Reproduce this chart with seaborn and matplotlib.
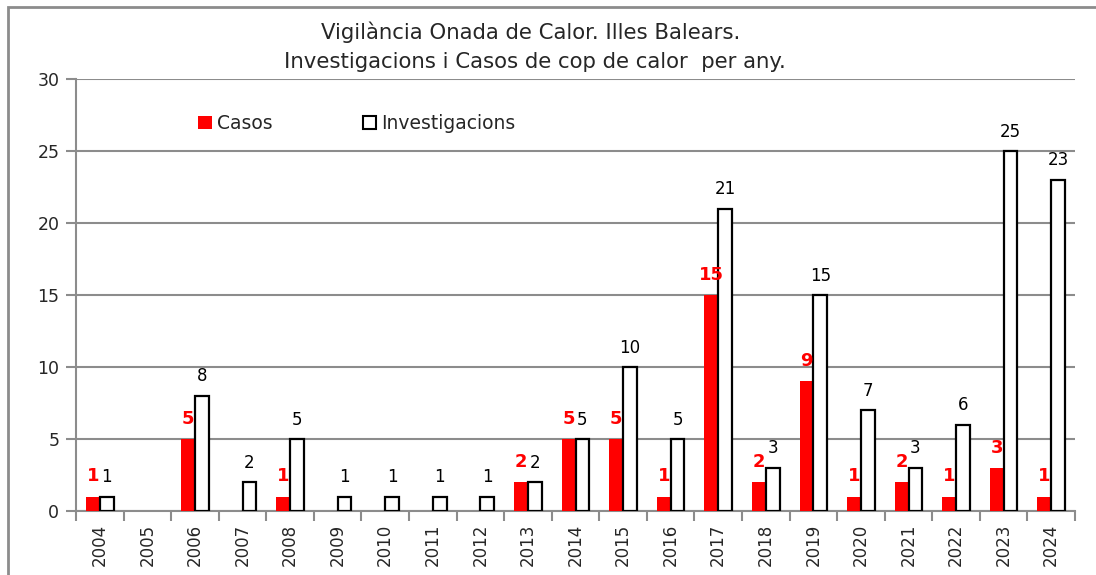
import matplotlib
matplotlib.use("Agg")
import matplotlib.pyplot as plt
import seaborn as sns
import pandas as pd
from matplotlib.patches import Rectangle

years = [str(y) for y in range(2004, 2025)]
casos = [1, 0, 5, 0, 1, 0, 0, 0, 0, 2, 5, 5, 1, 15, 2, 9, 1, 2, 1, 3, 1]
investigacions = [1, 0, 8, 2, 5, 1, 1, 1, 1, 2, 5, 10, 5, 21, 3, 15, 7, 3, 6, 25, 23]
series_names = ["Casos", "Investigacions"]
title_lines = ["Vigilància Onada de Calor. Illes Balears.",
               "Investigacions i Casos de cop de calor  per any."]
yticks = [0, 5, 10, 15, 20, 25, 30]

df = pd.DataFrame({
    "any": years * 2,
    "valor": casos + investigacions,
    "serie": [series_names[0]] * len(years) + [series_names[1]] * len(years),
})

sns.set_theme(style="white")
plt.rcParams["font.family"] = ["DejaVu Sans"]

W, H = 1096, 575
fig = plt.figure(figsize=(W / 100, H / 100), dpi=100)
ax = fig.add_axes([76 / W, 1 - 511 / H, (1075 - 76) / W, (511 - 79) / H])

sns.barplot(data=df, x="any", y="valor", hue="serie", order=years,
            hue_order=series_names,
            palette={"Casos": "#ff0000", "Investigacions": "#ffffff"},
            width=0.58, saturation=1, ax=ax, legend=True)

grid_c = "#8c8c8c"
txt_c = "#262626"
cont_c, cont_i = ax.containers[0], ax.containers[1]
for p in cont_c:
    p.set_edgecolor("#ff0000")
    p.set_linewidth(0)
    p.set_zorder(3)
for p in cont_i:
    p.set_edgecolor("black")
    p.set_linewidth(1.6 if p.get_height() > 0 else 0)
    p.set_zorder(3)

ax.bar_label(cont_c, labels=[str(v) if v > 0 else "" for v in casos],
             padding=8, color="#ff0000", fontsize=13, fontweight="bold")
ax.bar_label(cont_i, labels=[str(v) if v > 0 else "" for v in investigacions],
             padding=7.5, color="black", fontsize=12)

ax.set_ylim(0, 30)
ax.set_xlim(-0.5, len(years) - 0.5)
ax.set_yticks(yticks)
ax.set_yticklabels([str(t) for t in yticks], fontsize=12.5, color=txt_c)
ax.yaxis.grid(True, color=grid_c, linewidth=1.5)
ax.set_axisbelow(True)
ax.set_xlabel("")
ax.set_ylabel("")

ax.set_xticks([i for i in range(len(years))])
ax.set_xticklabels(years, rotation=90, fontsize=12, color=txt_c)
ax.set_xticks([i - 0.5 for i in range(len(years) + 1)], minor=True)
ax.tick_params(axis="x", which="major", length=0, pad=9)
ax.tick_params(axis="x", which="minor", length=7, width=1.5, color=grid_c, direction="out", bottom=True)
ax.tick_params(axis="y", length=7, width=1.5, color=grid_c, direction="out", left=True, pad=5)

for s in ["top", "right"]:
    ax.spines[s].set_visible(False)
for s in ["left", "bottom"]:
    ax.spines[s].set_color(grid_c)
    ax.spines[s].set_linewidth(1.5)

leg = ax.legend(loc="center left", bbox_to_anchor=(189 / W, 1 - 123.5 / H),
                bbox_transform=fig.transFigure, ncol=2, frameon=False, borderpad=0,
                fontsize=13.5, handlelength=0.7, handleheight=0.7, handletextpad=0.3,
                columnspacing=4.8, labelcolor=txt_c)
for h in leg.legend_handles:
    fc = h.get_facecolor()
    if fc[1] > 0.9:
        h.set_edgecolor("black")
        h.set_linewidth(1.5)
    else:
        h.set_edgecolor("#ff0000")
        h.set_linewidth(0)

fig.text(530.5 / W, 1 - 39 / H, title_lines[0], ha="center", va="baseline",
         fontsize=15.3, color=txt_c)
fig.text(535 / W, 1 - 68 / H, title_lines[1], ha="center", va="baseline",
         fontsize=15.3, color=txt_c)

fig.patches.append(Rectangle((8 / W, -0.1), 1.2, 1 - 7 / H + 0.1, transform=fig.transFigure,
                             fill=False, edgecolor=grid_c, linewidth=2, clip_on=False))

fig.savefig("out.png", dpi=100)
